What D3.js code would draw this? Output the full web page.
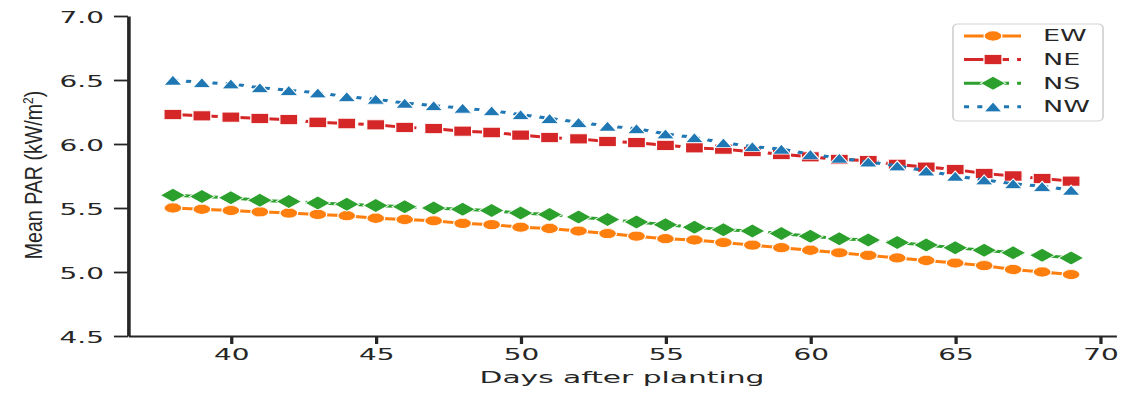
<!DOCTYPE html>
<html><head><meta charset="utf-8">
<script src="https://cdn.jsdelivr.net/npm/d3@7/dist/d3.min.js"></script>
<style>body{margin:0;background:#fff;} svg{display:block;}</style>
</head><body>
<script>
// ---- data ----
const days = [38,39,40,41,42,43,44,45,46,47,48,49,50,51,52,53,54,55,56,57,58,59,60,61,62,63,64,65,66,67,68,69];
const seriesNames = ["EW","NE","NS","NW"];
const ewValues = [5.50,5.49,5.48,5.47,5.46,5.45,5.44,5.42,5.41,5.40,5.38,5.37,5.35,5.34,5.32,5.30,5.28,5.26,5.25,5.23,5.21,5.19,5.17,5.15,5.13,5.11,5.09,5.07,5.05,5.02,5.00,4.98];
const neValues = [6.23,6.22,6.21,6.20,6.19,6.17,6.16,6.15,6.13,6.12,6.10,6.09,6.07,6.05,6.04,6.02,6.01,5.99,5.97,5.96,5.94,5.92,5.90,5.88,5.87,5.84,5.82,5.80,5.77,5.75,5.73,5.71];
const nsValues = [5.60,5.59,5.58,5.56,5.55,5.54,5.53,5.52,5.51,5.50,5.49,5.48,5.46,5.45,5.43,5.41,5.39,5.37,5.35,5.33,5.32,5.30,5.28,5.26,5.25,5.23,5.21,5.19,5.17,5.15,5.13,5.11];
const nwValues = [6.50,6.48,6.47,6.44,6.42,6.40,6.37,6.35,6.32,6.30,6.28,6.26,6.23,6.20,6.17,6.14,6.12,6.08,6.05,6.01,5.98,5.96,5.92,5.89,5.86,5.83,5.79,5.75,5.72,5.69,5.67,5.64];
const xTicks = [40,45,50,55,60,65,70];
const yTicks = [4.5,5.0,5.5,6.0,6.5,7.0];
const xLabel = "Days after planting";

// ---- styles ----
const W = 1136, H = 398, SX = 1.8;
const colors = {EW:"#ff7f0e", NE:"#d62728", NS:"#2ca02c", NW:"#1f77b4"};
const dashes = {EW:null, NE:"25,4.5,3,4.5", NS:"25,4.5,3,4.5", NW:"2.8,4.6"};
const markers = {
  EW: "M5,0A5,5 0 1,1 -5,0A5,5 0 1,1 5,0Z",
  NE: "M-5,-5H5V5H-5Z",
  NS: "M0,-7L7,0L0,7L-7,0Z",
  NW: "M0,-5L5,5L-5,5Z"
};
const valuesByName = {EW: ewValues, NE: neValues, NS: nsValues, NW: nwValues};
const axisColor = "#262626";

const svg = d3.select("body").append("svg").attr("width", W).attr("height", H);
const g = svg.append("g").attr("transform", `scale(${SX},1)`);

const x = d3.scaleLinear().domain([36.45, 70.55]).range([128 / SX, 1116 / SX]);
const y = d3.scaleLinear().domain([4.5, 7.0]).range([336, 16]);

// axes
const yAxis = g.append("g").attr("transform", `translate(${128 / SX},0)`)
  .call(d3.axisLeft(y).tickValues(yTicks).tickFormat(d3.format(".1f")).tickSize(7.8).tickSizeOuter(0).tickPadding(5.6));
const xAxis = g.append("g").attr("transform", `translate(0,336)`)
  .call(d3.axisBottom(x).tickValues(xTicks).tickFormat(d3.format("d")).tickSize(8).tickSizeOuter(0).tickPadding(5));
[yAxis, xAxis].forEach(a => {
  a.select(".domain").attr("stroke", axisColor).attr("stroke-width", 2);
  a.selectAll(".tick line").attr("stroke", axisColor).attr("stroke-width", 1.8);
  a.selectAll(".tick text").attr("fill", axisColor)
    .style("font-family", "'DejaVu Sans', sans-serif").style("font-size", "15.5px");
});
yAxis.selectAll(".tick text").attr("dy", "0.40em");
xAxis.selectAll(".tick text").attr("dy", "0.71em");

g.append("text").attr("x", (128 + 1116) / 2 / SX).attr("y", 383)
  .attr("text-anchor", "middle").attr("fill", axisColor)
  .style("font-family", "'DejaVu Sans', sans-serif").style("font-size", "16.5px")
  .text(xLabel);

// series
const line = d3.line().x(d => x(d[0])).y(d => y(d[1]));
seriesNames.forEach(name => {
  const pts = days.map((d, i) => [d, valuesByName[name][i]]);
  const s = g.append("g");
  s.append("path").datum(pts).attr("d", line).attr("fill", "none")
    .attr("stroke", colors[name]).attr("stroke-width", 3)
    .attr("stroke-dasharray", dashes[name]);
  s.selectAll("path.m").data(pts).join("path").attr("class", "m")
    .attr("d", markers[name])
    .attr("transform", d => `translate(${x(d[0])},${y(d[1])})`)
    .attr("fill", colors[name]).attr("stroke", "#fff").attr("stroke-width", 0.7);
});

// legend
const lg = g.append("g");
lg.append("rect").attr("x", 953 / SX).attr("y", 24).attr("width", 150 / SX).attr("height", 97)
  .attr("rx", 2.5).attr("ry", 4).attr("fill", "#fff").attr("fill-opacity", 0.85)
  .attr("stroke", "#d4d4d4").attr("stroke-width", 1);
const rowY = [36, 59.6, 83.2, 106.8];
const hx0 = 964 / SX, hx1 = 1021 / SX, hxm = 993 / SX;
seriesNames.forEach((name, i) => {
  const r = lg.append("g");
  r.append("line").attr("x1", hx0).attr("x2", hx1).attr("y1", rowY[i]).attr("y2", rowY[i])
    .attr("stroke", colors[name]).attr("stroke-width", 3).attr("stroke-dasharray", dashes[name]);
  r.append("path").attr("d", markers[name]).attr("transform", `translate(${hxm},${rowY[i]})`)
    .attr("fill", colors[name]).attr("stroke", "#fff").attr("stroke-width", 0.7);
  r.append("text").attr("x", 1043 / SX).attr("y", rowY[i] + 5.5).attr("fill", axisColor)
    .style("font-family", "'DejaVu Sans', sans-serif").style("font-size", "15px").text(name);
});

// y label (condensed along its length)
const yl = svg.append("text").attr("transform", "translate(42,175) rotate(-90) scale(0.8,1)")
  .attr("text-anchor", "middle").attr("fill", axisColor)
  .style("font-family", "'Liberation Sans', sans-serif").style("font-size", "24.5px");
yl.append("tspan").text("Mean PAR (kW/m");
yl.append("tspan").attr("dy", "-9.5").style("font-size", "15px").text("2");
yl.append("tspan").attr("dy", "9.5").text(")");
</script>
</body></html>
